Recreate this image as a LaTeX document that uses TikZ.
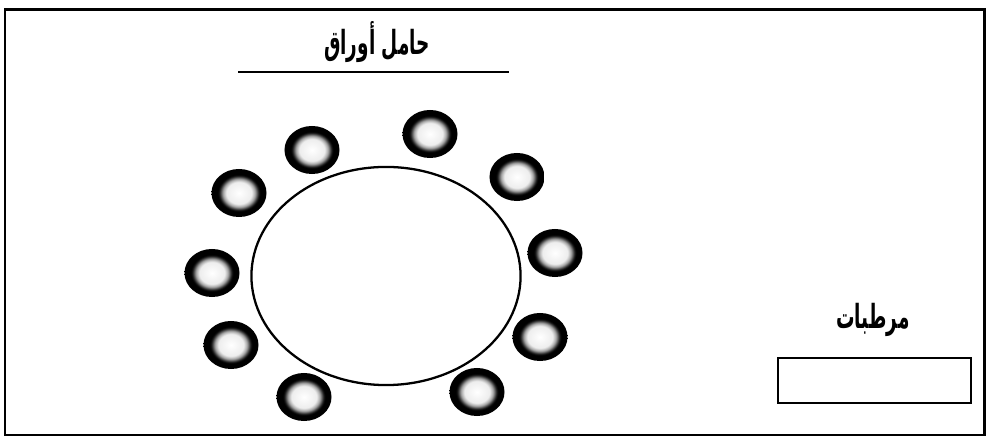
\documentclass[tikz,border=0pt]{standalone}
\usepackage{fontspec}
\usepackage{graphicx}
\usetikzlibrary{shapes.geometric}
\TeXXeTstate=1
\newfontfamily\arabicfont[Script=Arabic]{DejaVu Sans}
\newcommand{\artext}[1]{\scalebox{0.75}[1.35]{\arabicfont\bfseries\fontsize{7}{9}\selectfont\beginR #1\endR}}
\pgfdeclareradialshading{discshade}{\pgfpoint{0bp}{0bp}}{color(0bp)=(white); color(11.5bp)=(white!93!black); color(14.5bp)=(black!35); color(17.5bp)=(black!85); color(19bp)=(black); color(50bp)=(black)}
\tikzset{
  frame/.style={line width=0.85pt},
  pot/.style={ellipse, shading=discshade, minimum width=0.55cm, minimum height=0.48cm, inner sep=0pt},
  label/.style={inner sep=0pt},
  thin/.style={line width=0.65pt}
}
\begin{document}
\begin{tikzpicture}[x=0.01cm,y=-0.01cm]
\useasboundingbox (0,0) rectangle (988,440);
\fill[white] (0,0) rectangle (988,440);
\draw[frame] (5,10) rectangle (984,435);
\node[label] (title) at (377,42) {\artext{حامل أوراق}};
\coordinate (ulA) at (238,72);
\coordinate (ulB) at (509,72);
\draw[thin] (ulA) -- (ulB);
\node[ellipse, draw, thin, minimum width=2.69cm, minimum height=2.18cm, inner sep=0pt] (table) at (386,276) {};
\node[pot] (p1) at (312,150) {};
\node[pot] (p2) at (430,134) {};
\node[pot] (p3) at (517,177) {};
\node[pot] (p4) at (555,253) {};
\node[pot] (p5) at (540,337) {};
\node[pot] (p6) at (477,392) {};
\node[pot] (p7) at (304,397) {};
\node[pot] (p8) at (231,345) {};
\node[pot] (p9) at (212,273) {};
\node[pot] (p10) at (239,193) {};
\node[label] (drinks) at (873,320) {\artext{مرطبات}};
\node[draw, thin, minimum width=1.93cm, minimum height=0.45cm, inner sep=0pt] (box) at (874.5,380.5) {};
\end{tikzpicture}
\end{document}
